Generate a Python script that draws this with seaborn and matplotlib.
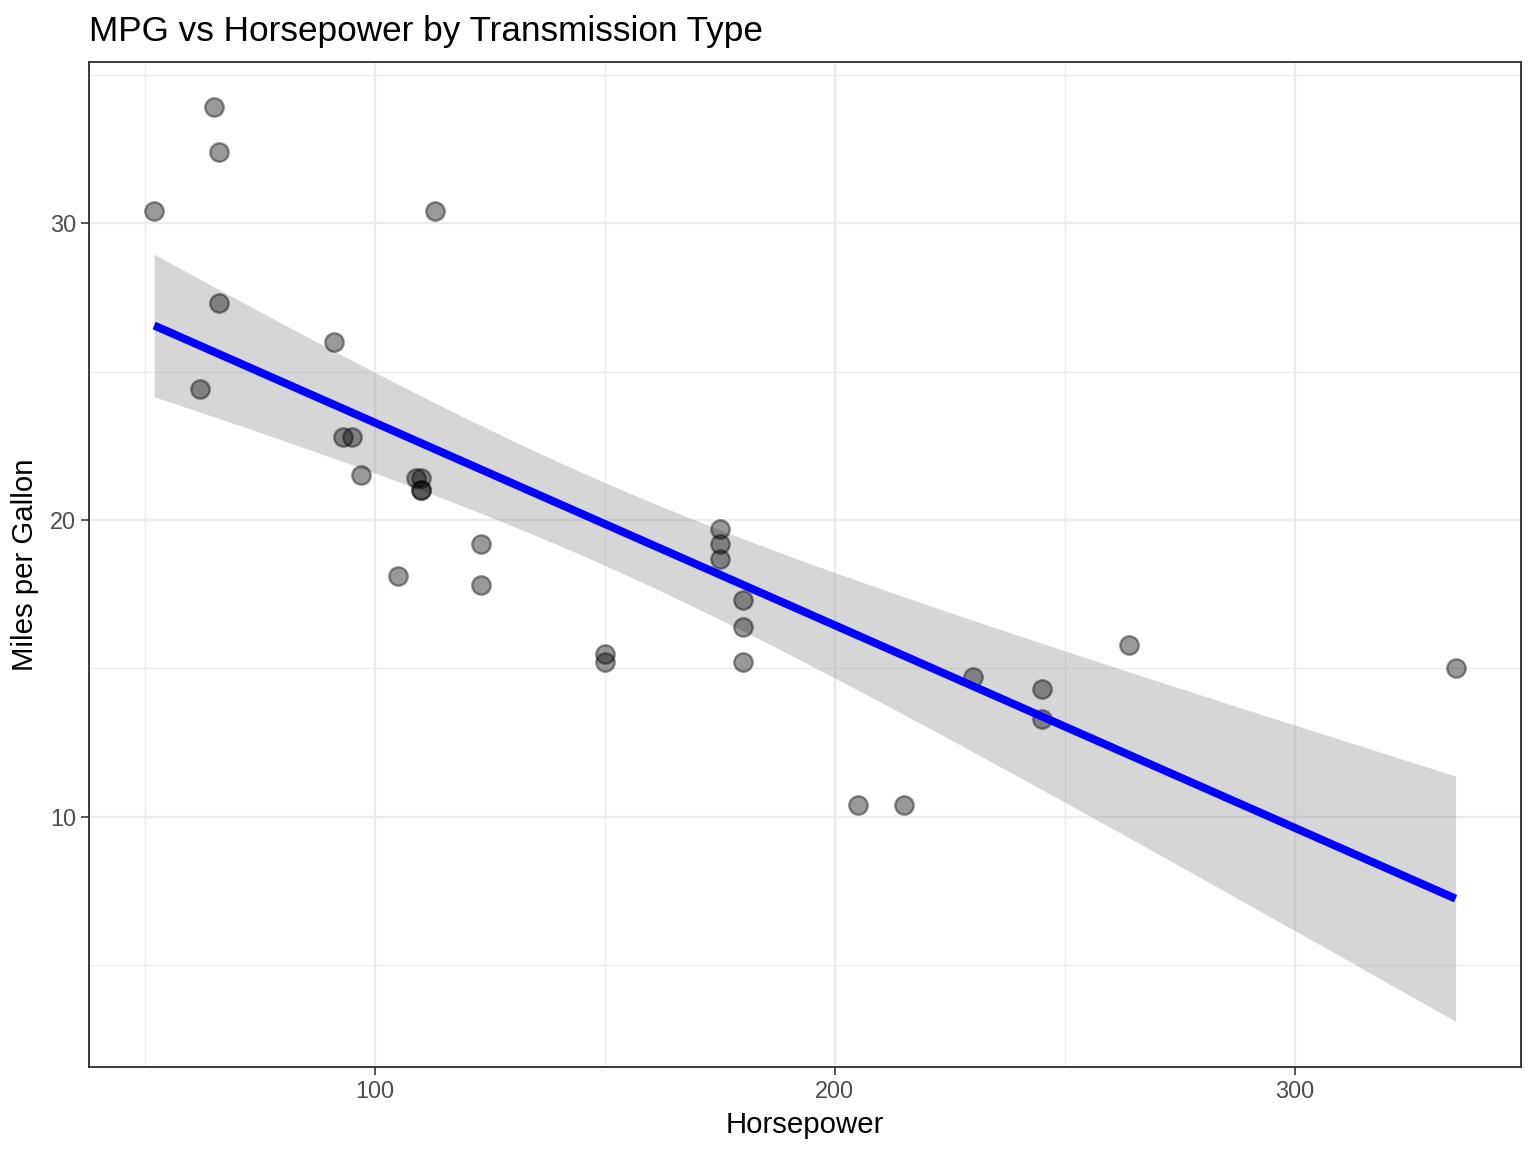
import numpy as np
import pandas as pd
import matplotlib
matplotlib.use('Agg')
import matplotlib.pyplot as plt
import seaborn as sns
from matplotlib.ticker import MultipleLocator

# mtcars: horsepower and mpg
hp = [110, 110, 93, 110, 175, 105, 245, 62, 95, 123, 123, 180, 180, 180, 205, 215,
      230, 66, 52, 65, 97, 150, 150, 245, 175, 66, 91, 113, 264, 175, 335, 109]
mpg = [21.0, 21.0, 22.8, 21.4, 18.7, 18.1, 14.3, 24.4, 22.8, 19.2, 17.8, 16.4, 17.3, 15.2,
       10.4, 10.4, 14.7, 32.4, 30.4, 33.9, 21.5, 15.5, 15.2, 13.3, 19.2, 27.3, 26.0, 30.4,
       15.8, 19.7, 15.0, 21.4]

df = pd.DataFrame({'hp': hp, 'mpg': mpg})

sns.set_style('white')
plt.rcParams['font.family'] = ['Liberation Sans', 'DejaVu Sans']
plt.rcParams['text.color'] = 'black'
plt.rcParams['axes.labelcolor'] = 'black'

# linear fit + 95% confidence band (like geom_smooth(method='lm'))
x = df['hp'].to_numpy(float)
y = df['mpg'].to_numpy(float)
n = len(x)
b1, b0 = np.polyfit(x, y, 1)
resid = y - (b0 + b1 * x)
s = np.sqrt(np.sum(resid ** 2) / (n - 2))
xg = np.linspace(x.min(), x.max(), 80)
yg = b0 + b1 * xg
se = s * np.sqrt(1 / n + (xg - x.mean()) ** 2 / np.sum((x - x.mean()) ** 2))
t975 = 2.042  # t quantile, df = 30

fig = plt.figure(figsize=(8, 6), dpi=192)
ax = fig.add_axes([0.058, 0.074, 0.932, 0.872])

ax.fill_between(xg, yg - t975 * se, yg + t975 * se, color='#999999', alpha=0.4,
                lw=0, zorder=2)
sns.regplot(data=df, x='hp', y='mpg', ax=ax, ci=None,
            scatter_kws=dict(s=48, color='black', alpha=0.4, linewidths=0.9, zorder=3),
            line_kws=dict(color='blue', lw=3.0, zorder=4, solid_capstyle='butt'))

ax.set_xlim(37.85, 349.15)
ax.set_ylim(1.58, 35.42)
ax.xaxis.set_major_locator(MultipleLocator(100))
ax.xaxis.set_minor_locator(MultipleLocator(50))
ax.yaxis.set_major_locator(MultipleLocator(10))
ax.yaxis.set_minor_locator(MultipleLocator(5))
ax.grid(True, which='major', color='#ebebeb', lw=0.9)
ax.grid(True, which='minor', color='#ebebeb', lw=0.45)
ax.set_axisbelow(True)
for sp in ax.spines.values():
    sp.set_color('#333333')
    sp.set_linewidth(0.7)
ax.tick_params(axis='both', which='major', length=3, width=0.6, color='#333333',
               labelsize=8.8, labelcolor='#4d4d4d', pad=2, bottom=True, left=True)
ax.tick_params(which='minor', length=0)

ax.set_xlabel('Horsepower', fontsize=11, labelpad=3)
ax.set_ylabel('Miles per Gallon', fontsize=11, labelpad=4)
ax.set_title('MPG vs Horsepower by Transmission Type', fontsize=13.2, loc='left', pad=8, x=0)

fig.savefig('out.png', dpi=192)
